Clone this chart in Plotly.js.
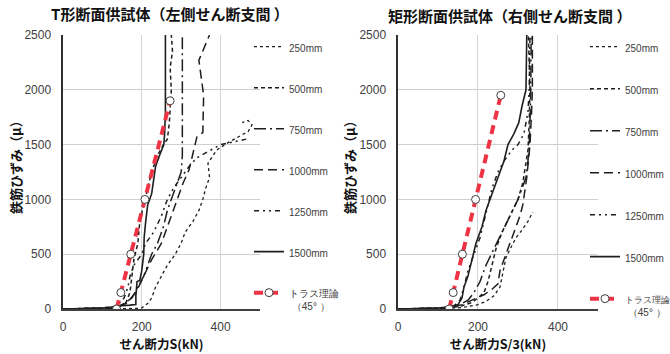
<!DOCTYPE html>
<html><head><meta charset="utf-8">
<script src="https://cdn.plot.ly/plotly-3.0.1.min.js"></script>
<style>html,body{margin:0;padding:0;background:#fff}#chart{width:670px;height:354px}</style>
</head><body><div id="chart"></div>
<script>
// ---- Legend labels ----
const seriesNames = ["250mm", "500mm", "750mm", "1000mm", "1250mm", "1500mm"];
const trussLine1 = "トラス理論";
const trussLine2 = " （45° ）";

// ---- Left panel: T形断面供試体 (x = S kN, y = strain µ) ----
const L250x = [0,150,190,200,215,225,235,250,265,285,300,310,330,345,355,362,372,368,380,390,420,450,470,480,470,455];
const L250y = [0,2,5,10,50,100,200,300,400,500,600,700,800,900,1000,1100,1200,1330,1400,1450,1520,1580,1620,1680,1720,1700];
const L500x = [0,100,140,160,170,175,180,190,195,205,215,225,240,255,265,270,275,272,278,275];
const L500y = [0,5,20,60,150,300,450,600,800,950,1100,1250,1400,1500,1550,1700,2000,2200,2350,2500];
const L750x = [0,120,150,175,190,205,215,225,240,255,265,280,290,300,303,303];
const L750y = [0,10,40,100,200,300,400,500,600,750,900,1050,1150,1250,1400,2500];
const L1000x = [0,130,160,185,205,225,250,270,290,305,320,330,340,355,357,345,372];
const L1000y = [0,10,50,150,300,450,600,800,1000,1150,1270,1420,1570,1610,1950,2270,2500];
const L1250x = [0,120,140,155,165,170,180,200,210,230,250,265,280,300,320,340,370,400,440,465];
const L1250y = [0,15,40,100,200,300,400,500,600,700,850,1000,1100,1200,1300,1380,1440,1500,1530,1550];
const L1500x = [0,60,100,120,135,150,170,185,185,188,195,200,205,206,210,215,225,230,235,245,250,256,258,260,260];
const L1500y = [0,3,8,15,25,30,35,40,120,250,260,350,500,650,800,950,1050,1200,1300,1400,1450,1500,1600,1800,2500];
const LtrussX = [136,147,172,208,272];
const LtrussY = [0,150,500,1000,1900];

// ---- Right panel: 矩形断面供試体 (x = S/3 kN) ----
const R250x = [0,120,150,170,200,220,240,255,262,270,285,295,310,325,337];
const R250y = [0,5,10,20,40,70,120,200,330,470,580,650,720,800,885];
const R500x = [0,130,160,185,200,215,225,235,245,260,280,300,312,318,325,328,330,326];
const R500y = [0,8,30,60,100,150,250,400,550,700,850,1000,1150,1300,1450,1700,2000,2500];
const R750x = [0,120,150,175,190,205,220,240,260,280,300,310,320,325,328,330,332,333];
const R750y = [0,10,30,80,150,250,400,550,700,850,1000,1100,1200,1350,1500,1700,2000,2500];
const R1000x = [0,130,160,190,215,235,250,255,265,275,285,295,305,312,318,322,326,330,334,336,336];
const R1000y = [0,10,40,90,130,180,230,350,450,550,650,750,850,950,1100,1200,1350,1500,1800,2000,2500];
const R1250x = [0,110,140,155,165,175,190,205,215,225,235,250,265,285,300,315,325,328,330];
const R1250y = [0,10,30,80,200,350,500,650,800,950,1100,1250,1350,1450,1500,1600,1800,2000,2500];
const R1500x = [0,50,100,130,150,160,165,175,185,195,210,220,230,240,250,265,275,290,302,310,320,322];
const R1500y = [0,2,8,20,40,100,200,300,450,600,750,900,1000,1100,1200,1350,1500,1600,1700,1850,2000,2500];
const RtrussX = [128,138,161,194,257];
const RtrussY = [0,150,500,1000,1950];

const inkColor = "#1e1e1e";
const dashes = ["dot", "4px,3px", "12px,4px,2px,4px", "9px,5px", "5px,4px,2px,4px,2px,4px", "solid"];
const widths = [1.3, 1.5, 1.5, 1.5, 1.5, 1.6];

function series(xs, ys, idx, axSuffix, legendId) {
  return {
    x: xs, y: ys, type: "scatter", mode: "lines", name: seriesNames[idx],
    xaxis: "x" + axSuffix, yaxis: "y" + axSuffix, legend: legendId,
    legendgroup: legendId + idx,
    line: {color: inkColor, width: widths[idx], dash: dashes[idx]}
  };
}
function truss(xs, ys, axSuffix, legendId, nameSize) {
  return {
    x: xs, y: ys, type: "scatter", mode: "lines+markers",
    name: "<span style='font-size:" + nameSize + "px'>" + trussLine1 + "</span><br>" + trussLine2,
    xaxis: "x" + axSuffix, yaxis: "y" + axSuffix, legend: legendId,
    legendgroup: legendId + "truss",
    line: {color: "#EE3444", width: 4, dash: "9px,6px"},
    marker: {symbol: "circle", size: 8, color: "#ffffff", line: {color: "#404040", width: 1}}
  };
}

const leftSets = [[L250x,L250y],[L500x,L500y],[L750x,L750y],[L1000x,L1000y],[L1250x,L1250y],[L1500x,L1500y]];
const rightSets = [[R250x,R250y],[R500x,R500y],[R750x,R750y],[R1000x,R1000y],[R1250x,R1250y],[R1500x,R1500y]];

const data = [];
leftSets.forEach((s, i) => data.push(series(s[0], s[1], i, "", "legend")));
data.push(truss(LtrussX, LtrussY, "", "legend", 10));
rightSets.forEach((s, i) => data.push(series(s[0], s[1], i, "2", "legend2")));
data.push(truss(RtrussX, RtrussY, "2", "legend2", 8.5));

const tickFont = {family: "Liberation Sans, Arial, sans-serif", size: 12, color: "#404040"};
const titleFont = {family: "Noto Sans CJK JP, sans-serif", size: 12.5, color: "#111111", weight: "bold"};

function xax(domain, anchor, title) {
  return {
    domain: domain, anchor: anchor, range: [0, 500], dtick: 200, tick0: 0,
    showgrid: true, gridcolor: "#d4d4d4", gridwidth: 1, zeroline: false,
    showline: true, linecolor: "#404040", linewidth: 1.5,
    ticks: "outside", ticklen: 6, tickcolor: "rgba(0,0,0,0)",
    tickfont: tickFont, automargin: false,
    title: {text: title, font: titleFont, standoff: 3}
  };
}
function yax(domain, anchor) {
  return {
    domain: domain, anchor: anchor, range: [0, 2500], dtick: 500, tick0: 0,
    showgrid: true, gridcolor: "#cfcfcf", gridwidth: 1, zeroline: false,
    showline: true, linecolor: "#303030", linewidth: 1.5,
    ticks: "outside", ticklen: 8, tickcolor: "rgba(0,0,0,0)",
    tickfont: tickFont, automargin: false
  };
}

const yTitle = "鉄筋ひずみ（μ）";
const yTitleFont = {family: "Noto Sans CJK JP, sans-serif", size: 13, color: "#111111", weight: "bold"};
const legendFont = {family: "Liberation Sans, Arial, sans-serif", size: 10, color: "#404040"};
const titleFontBig = {family: "Noto Sans CJK JP, sans-serif", size: 15, color: "#111111", weight: "bold"};
const layout = {
  width: 670, height: 354,
  margin: {l: 0, r: 0, t: 0, b: 0, autoexpand: false},
  paper_bgcolor: "#ffffff", plot_bgcolor: "#ffffff",
  showlegend: true,
  xaxis: xax([0.094, 0.388], "y", "せん断力S(kN)"),
  yaxis: yax([0.1271, 0.9011], "x"),
  xaxis2: xax([0.594, 0.8925], "y2", "せん断力S/3(kN)"),
  yaxis2: yax([0.1271, 0.9011], "x2"),
  legend: {x: 249/670, xanchor: "left", y: 0.905, yanchor: "top", traceorder: "grouped", valign: "top",
           tracegroupgap: 22, font: legendFont, bgcolor: "rgba(0,0,0,0)", borderwidth: 0},
  legend2: {x: 585/670, xanchor: "left", y: 0.905, yanchor: "top", traceorder: "grouped", valign: "top",
            tracegroupgap: 23, font: legendFont, bgcolor: "rgba(0,0,0,0)", borderwidth: 0},
  annotations: [
    {text: "T形断面供試体（左側せん断支間 ）", xref: "paper", yref: "paper", x: 170/670, y: 1 - 14/354,
     xanchor: "center", yanchor: "middle", showarrow: false, font: titleFontBig},
    {text: "矩形断面供試体（右側せん断支間 ）", xref: "paper", yref: "paper", x: 509/670, y: 1 - 15/354,
     xanchor: "center", yanchor: "middle", showarrow: false, font: titleFontBig},
    {text: yTitle, xref: "paper", yref: "paper", x: 16/670, y: 1 - 164/354, textangle: -90,
     xanchor: "center", yanchor: "middle", showarrow: false, font: yTitleFont},
    {text: yTitle, xref: "paper", yref: "paper", x: 350/670, y: 1 - 164/354, textangle: -90,
     xanchor: "center", yanchor: "middle", showarrow: false, font: yTitleFont}
  ]
};

Plotly.newPlot("chart", data, layout, {staticPlot: true, displayModeBar: false});
</script></body></html>
